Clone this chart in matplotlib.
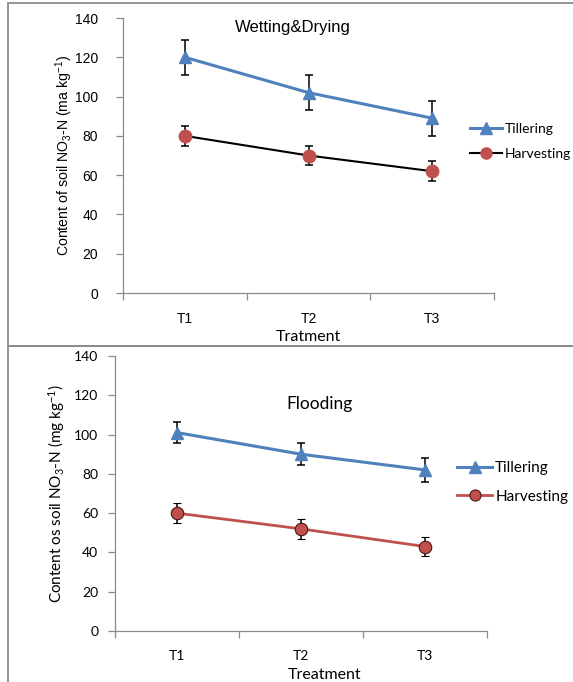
import matplotlib

matplotlib.use("Agg")
import matplotlib.pyplot as plt
from matplotlib.lines import Line2D
from matplotlib.patches import Rectangle

W, H = 573, 682

treatments = ["T1", "T2", "T3"]

# Wetting & Drying panel
wd_tillering = [120, 102, 89]
wd_tillering_err = [9, 9, 9]
wd_harvesting = [80, 70, 62]
wd_harvesting_err = [5, 5, 5]

# Flooding panel
fl_tillering = [101, 90, 82]
fl_tillering_err = [5.5, 5.5, 6]
fl_harvesting = [60, 52, 43]
fl_harvesting_err = [5, 5, 5]

BLUE = "#4F81BD"
RED = "#C0504D"
AXIS_GRAY = "#8c8c8c"

plt.rcParams["font.family"] = ["Liberation Sans", "DejaVu Sans"]
plt.rcParams["mathtext.fontset"] = "custom"
plt.rcParams["mathtext.rm"] = "Liberation Sans"
plt.rcParams["mathtext.it"] = "Liberation Sans:italic"
plt.rcParams["mathtext.default"] = "regular"

fig = plt.figure(figsize=(W / 100, H / 100), dpi=100)

# chart frames
fig.add_artist(Rectangle((8 / W, 1 - 346 / H), 1, (346 - 3) / H,
                         transform=fig.transFigure, fill=False,
                         edgecolor="#8a8a8a", lw=1.3))
fig.add_artist(Rectangle((8 / W, -0.1), 1, 0.1 + 1 - 346 / H,
                         transform=fig.transFigure, fill=False,
                         edgecolor="#8a8a8a", lw=1.3))


def px_axes(left, top, right, bottom):
    return fig.add_axes([left / W, 1 - bottom / H, (right - left) / W, (bottom - top) / H])


def style_axes(ax, font, ypad):
    x = list(range(1, len(treatments) + 1))
    ax.set_xlim(0.5, len(treatments) + 0.5)
    ax.set_ylim(0, 140)
    ax.set_yticks(range(0, 141, 20))
    ax.set_xticks(x)
    ax.set_xticklabels(treatments, family=font, fontsize=10)
    ax.set_xticks([v + 0.5 for v in [0] + x], minor=True)
    ax.tick_params(axis="x", which="major", length=0, pad=14)
    ax.tick_params(axis="x", which="minor", length=5, width=0.9, color=AXIS_GRAY)
    ax.tick_params(axis="y", length=5, width=0.9, color=AXIS_GRAY, pad=ypad)
    for lab in ax.get_yticklabels():
        lab.set_family(font)
        lab.set_fontsize(10)
    for s in ("top", "right"):
        ax.spines[s].set_visible(False)
    for s in ("left", "bottom"):
        ax.spines[s].set_color(AXIS_GRAY)
        ax.spines[s].set_linewidth(0.9)
    return x


# ---- top panel: Wetting&Drying
ax1 = px_axes(123, 18, 494, 293)
x = style_axes(ax1, "Liberation Sans", 13)
ax1.errorbar(x, wd_tillering, yerr=wd_tillering_err, color=BLUE, lw=2.2,
             marker="^", ms=8, mec=BLUE, ecolor="black", elinewidth=1.1,
             capsize=2.8, capthick=1.1, label="Tillering", zorder=3)
ax1.errorbar(x, wd_harvesting, yerr=wd_harvesting_err, color="black", lw=1.5,
             marker="o", ms=9, mfc=RED, mec=RED, ecolor="black", elinewidth=1.1,
             capsize=2.8, capthick=1.1, label="Harvesting", zorder=3)
ax1.text(0.458, 0.967, "Wetting&Drying", transform=ax1.transAxes,
         ha="center", va="center", fontsize=12)
ax1.set_ylabel("Content of soil NO$_{3}$-N (ma kg$^{\\mathrm{-}1}$)", fontsize=10.2, va="center")
ax1.yaxis.set_label_coords(-0.159, 0.5)
ax1.set_xlabel("Tratment", family="Lato", fontsize=11.5, va="center")
ax1.xaxis.set_label_coords(0.5, -0.16)
h, l = ax1.get_legend_handles_labels()
fig.legend([Line2D([], [], color=BLUE, lw=2.2, marker="^", ms=8),
            Line2D([], [], color="black", lw=1.5, marker="o", ms=8, mfc=RED, mec=RED)],
           l, loc="center left", bbox_to_anchor=(470 / W, 1 - 141.5 / H),
           frameon=False, handlelength=2.3, handletextpad=0.2,
           labelspacing=0.95, borderpad=0, borderaxespad=0,
           prop={"family": "Lato", "size": 10})

# ---- bottom panel: Flooding
ax2 = px_axes(115, 356, 487, 631)
x = style_axes(ax2, "Lato", 7)
ax2.errorbar(x, fl_tillering, yerr=fl_tillering_err, color=BLUE, lw=2.2,
             marker="^", ms=8, mec=BLUE, ecolor="black", elinewidth=1.1,
             capsize=2.8, capthick=1.1, label="Tillering", zorder=3)
ax2.errorbar(x, fl_harvesting, yerr=fl_harvesting_err, color=RED, lw=2.0,
             marker="o", ms=9, mfc=RED, mec="#4a1a19", mew=0.8, ecolor="black",
             elinewidth=1.1, capsize=2.8, capthick=1.1, label="Harvesting", zorder=3)
ax2.text(0.551, 0.825, "Flooding", transform=ax2.transAxes,
         ha="center", va="center", family="Lato", fontsize=12.5)
ax2.set_ylabel("Content os soil NO$_{3}$-N (mg kg$^{\\mathrm{-}1}$)", family="Lato",
               fontsize=11, va="center")
ax2.yaxis.set_label_coords(-0.156, 0.5)
ax2.set_xlabel("Treatment", family="Lato", fontsize=11.5, va="center")
ax2.xaxis.set_label_coords(0.564, -0.16)
h, l = ax2.get_legend_handles_labels()
fig.legend([Line2D([], [], color=BLUE, lw=2.2, marker="^", ms=8),
            Line2D([], [], color=RED, lw=2.0, marker="o", ms=8, mfc=RED, mec="#4a1a19", mew=0.8)],
           l, loc="center left", bbox_to_anchor=(457 / W, 1 - 482.5 / H),
           frameon=False, handlelength=2.3, handletextpad=0.2,
           labelspacing=0.95, borderpad=0, borderaxespad=0,
           prop={"family": "Lato", "size": 11})

fig.savefig("out.png", dpi=100)
